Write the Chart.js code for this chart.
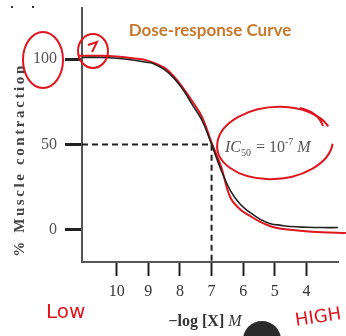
<!DOCTYPE html>
<html>
<head>
<meta charset="utf-8">
<script src="https://cdn.jsdelivr.net/npm/chart.js@4"></script>
<style>
  html, body { margin: 0; padding: 0; background: #fff; }
  #wrap { width: 346px; height: 336px; position: relative; }
</style>
</head>
<body>
<div id="wrap"><canvas id="myChart" width="346" height="336"></canvas></div>
<script>
// values: -log[X] (M) and % muscle contraction
var logDose   = [11.1, 10.5, 10, 9.5, 9, 8.85, 8.5, 8.2, 7.9, 7.6, 7.3, 7, 6.7, 6.41, 6.1, 5.78, 5.46, 5.14, 4.8, 4.51, 4, 3.5, 3];
var response  = [101, 101, 100.5, 99.5, 98, 97.5, 94, 89, 82, 73, 64, 50, 35, 23, 15, 10, 6, 3.5, 2.5, 1.8, 1.4, 1.2, 1.2];

// red pen trace drawn over the printed curve
var penDose   = [11.2, 10.5, 10, 9.5, 9, 8.5, 8.2, 7.9, 7.6, 7.3, 7, 6.7, 6.41, 6.1, 5.78, 5.46, 5.14, 4.8, 4.2, 3.5, 2.75];
var penResp   = [102, 102, 101.5, 100.5, 99, 95, 90, 83, 75, 66, 51, 37, 19, 12, 8, 4.5, 2, 0.5, -0.6, -1.5, -2];

// IC50 guide lines
var ic50Dose  = [11.1, 7, 7];
var ic50Resp  = [50, 50, -19];

var xTicks = [10, 9, 8, 7, 6, 5, 4];
var yTicks = [0, 50, 100];

function toPoints(xs, ys) {
    return xs.map(function(x, i) { return { x: x, y: ys[i] }; });
}

var annotate = {
    id: 'annotate',
    afterDraw: function(chart) {
        var c = chart.ctx;
        c.save();

        // stray dots
        c.fillStyle = '#333';
        c.fillRect(11, 6, 2, 2);
        c.fillRect(32, 6, 2, 2);

        // title
        c.fillStyle = '#c8782c';
        c.font = 'bold 17px Lato';
        c.textAlign = 'center';
        c.textBaseline = 'middle';
        c.fillText('Dose-response Curve', 210, 31);

        // y axis title
        c.save();
        c.translate(20, 160);
        c.rotate(-Math.PI / 2);
        c.fillStyle = '#444';
        c.font = 'bold 15px "Liberation Serif"';
        c.letterSpacing = '2.6px';
        c.fillText('% Muscle contraction', 0, 0);
        c.restore();

        // x axis title
        c.fillStyle = '#333';
        c.textAlign = 'left';
        c.textBaseline = 'alphabetic';
        c.font = 'bold 16px "Liberation Serif"';
        var t1 = '\u2212log [X] ';
        var w1 = c.measureText(t1).width;
        c.font = 'italic 16px "Liberation Serif"';
        var w2 = c.measureText('M').width;
        var sx = 205 - (w1 + w2) / 2;
        c.font = 'bold 16px "Liberation Serif"';
        c.fillText(t1, sx, 326);
        c.font = 'italic 16px "Liberation Serif"';
        c.fillText('M', sx + w1, 326);

        // IC50 label
        c.fillStyle = '#555';
        var x = 225, base = 152;
        c.font = 'italic 16px "Liberation Serif"';
        c.fillText('IC', x, base); x += c.measureText('IC').width;
        c.font = '10px "Liberation Serif"';
        c.fillText('50', x, base + 4); x += c.measureText('50').width + 1;
        c.font = '16px "Liberation Serif"';
        c.fillText(' = 10', x, base); x += c.measureText(' = 10').width;
        c.font = '10px "Liberation Serif"';
        c.fillText('-7', x, base - 7); x += c.measureText('-7').width;
        c.font = 'italic 16px "Liberation Serif"';
        c.fillText(' M', x, base);

        // red pen marks
        c.strokeStyle = '#e0161e';
        c.lineWidth = 2;
        c.beginPath(); c.ellipse(43, 60, 20, 28, 0, 0, Math.PI * 2); c.stroke();
        c.beginPath(); c.ellipse(93, 51, 15, 17, 0, 0, Math.PI * 2); c.stroke();
        c.beginPath(); c.moveTo(88, 45); c.lineTo(97, 42); c.lineTo(92, 52); c.stroke();
        c.beginPath(); c.ellipse(275, 143, 58, 36, -0.08, 0.15, Math.PI * 2 - 0.35); c.stroke();
        c.beginPath(); c.moveTo(300, 108); c.quadraticCurveTo(318, 112, 323, 126); c.stroke();

        c.fillStyle = '#e0161e';
        c.font = '20px "DejaVu Sans"';
        c.fillText('Low', 46, 318);
        c.save();
        c.translate(296, 326);
        c.rotate(-0.15);
        c.font = '18px "DejaVu Sans"';
        c.fillText('HIGH', 0, 0);
        c.restore();

        // pen blob at the bottom
        c.fillStyle = '#2a2a2a';
        c.beginPath(); c.arc(262, 340, 19, 0, Math.PI * 2); c.fill();

        c.restore();
    }
};

var ctx = document.getElementById('myChart').getContext('2d');
var myChart = new Chart(ctx, {
    type: 'scatter',
    data: {
        datasets: [{
            data: toPoints(ic50Dose, ic50Resp),
            showLine: true,
            borderColor: '#222',
            borderWidth: 2,
            borderDash: [6, 4],
            pointRadius: 0
        }, {
            data: toPoints(logDose, response),
            showLine: true,
            borderColor: '#222',
            borderWidth: 1.6,
            tension: 0.4,
            pointRadius: 0
        }, {
            data: toPoints(penDose, penResp),
            showLine: true,
            borderColor: '#e0161e',
            borderWidth: 2,
            tension: 0.4,
            pointRadius: 0,
            clip: false
        }]
    },
    options: {
        responsive: false,
        animation: false,
        layout: { padding: { top: 8, right: 8, left: 0, bottom: 0 } },
        plugins: {
            legend: { display: false },
            tooltip: { enabled: false }
        },
        scales: {
            x: {
                type: 'linear',
                reverse: true,
                min: 3,
                max: 11.1,
                afterBuildTicks: function(scale) {
                    scale.ticks = xTicks.map(function(v) { return { value: v }; });
                },
                afterFit: function(scale) {
                    scale.height = 74;
                    scale.paddingLeft = 0;
                    scale.paddingRight = 0;
                },
                grid: { drawOnChartArea: false, tickLength: 14, tickColor: '#222', tickWidth: 2 },
                border: { color: '#555', width: 2 },
                ticks: {
                    color: '#333',
                    padding: 6,
                    maxRotation: 0,
                    font: { family: '"Liberation Serif"', size: 16 }
                }
            },
            y: {
                min: -19,
                max: 130,
                afterBuildTicks: function(scale) {
                    scale.ticks = yTicks.map(function(v) { return { value: v }; });
                },
                afterFit: function(scale) {
                    scale.width = 82;
                    scale.paddingTop = 0;
                    scale.paddingBottom = 0;
                },
                grid: { drawOnChartArea: false, tickLength: 17, tickColor: '#222', tickWidth: 3 },
                border: { color: '#555', width: 2 },
                ticks: {
                    color: '#555',
                    padding: 8,
                    font: { family: '"Liberation Serif"', size: 16 }
                }
            }
        }
    },
    plugins: [annotate]
});
</script>
</body>
</html>
